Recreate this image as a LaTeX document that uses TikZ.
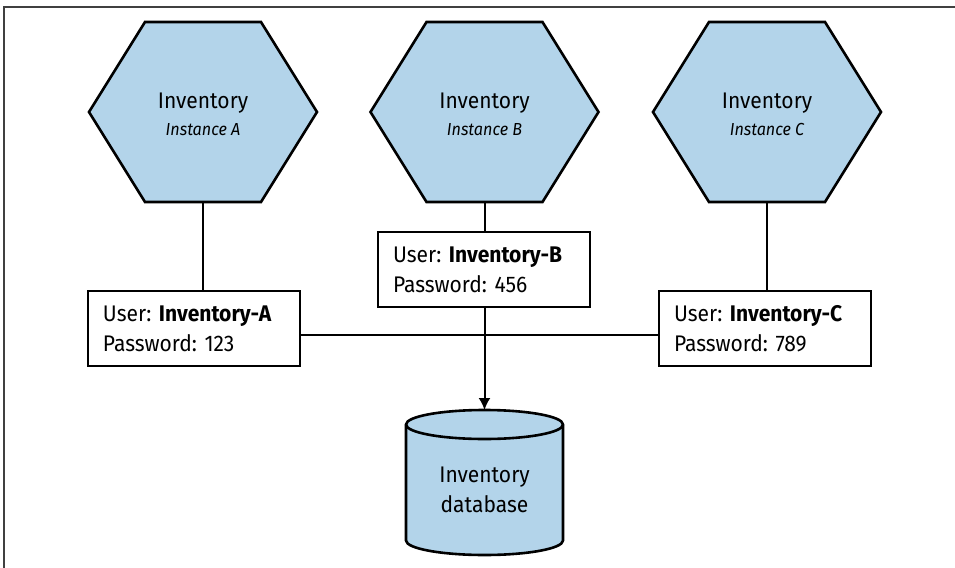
\documentclass[tikz,border=0pt]{standalone}
\usepackage{fontspec}
\setmainfont{Fira Sans}[FakeStretch=0.93]
\frenchspacing
\usetikzlibrary{arrows.meta}
\definecolor{invblue}{RGB}{179,212,234}

\begin{document}
\begin{tikzpicture}[x=0.5pt, y=-0.5pt, >={Latex[length=6pt,width=6pt]},
    hexa/.style={draw=black, fill=invblue, line width=1.3pt, line join=miter},
    svclabel/.style={align=center, font=\fontsize{11.3}{13.5}\selectfont},
    cred/.style={draw=black, fill=white, line width=1.2pt, minimum width=106pt,
        minimum height=37.5pt, text width=91pt, inner xsep=7.5pt, align=left,
        font=\fontsize{11.3}{15}\selectfont},
    link/.style={line width=1pt}]
    \useasboundingbox (0,0) rectangle (955,568);
    % 0. Khung
    \draw[line width=0.8pt, black!75] (955,7) -- (4,7) -- (4,568);

    % 1. Ba dich vu Inventory (luc giac)
    \draw[hexa, shift={(203,112)}] (-114,0) -- (-58,-90) -- (58,-90) -- (114,0) -- (58,90) -- (-58,90) -- cycle;
    \node[svclabel] (invA) at (203,114) {Inventory\\{\fontsize{8.7}{13.5}\selectfont\itshape Instance A}};
    \coordinate (hexA) at (203,202);

    \draw[hexa, shift={(484.5,112)}] (-114,0) -- (-58,-90) -- (58,-90) -- (114,0) -- (58,90) -- (-58,90) -- cycle;
    \node[svclabel] (invB) at (484.5,114) {Inventory\\{\fontsize{8.7}{13.5}\selectfont\itshape Instance B}};
    \coordinate (hexB) at (484.5,202);

    \draw[hexa, shift={(767,112)}] (-114,0) -- (-58,-90) -- (58,-90) -- (114,0) -- (58,90) -- (-58,90) -- cycle;
    \node[svclabel] (invC) at (767,114) {Inventory\\{\fontsize{8.7}{13.5}\selectfont\itshape Instance C}};
    \coordinate (hexC) at (767,202);

    % 2. Tai khoan cua tung instance
    \node[cred] (userA) at (194,328.5) {User: \textbf{Inventory-A}\\Password: 123};
    \node[cred] (userB) at (484,269.5) {User: \textbf{Inventory-B}\\Password: 456};
    \node[cred] (userC) at (765,328.5) {User: \textbf{Inventory-C}\\Password: 789};

    % 3. Co so du lieu (hinh tru)
    \draw[hexa] (406,424.5) -- (406,540.5) arc[start angle=180, end angle=0, x radius=78.5, y radius=14.5]
        -- (563,424.5) arc[start angle=0, end angle=-180, x radius=78.5, y radius=14.5] -- cycle;
    \draw[hexa, fill=none] (406,424.5) arc[start angle=180, end angle=0, x radius=78.5, y radius=14.5];
    \node[svclabel, font=\fontsize{11.3}{15}\selectfont] (db) at (484.5,490) {Inventory\\database};
    \coordinate (dbtop) at (484.5,410);

    % 4. Cac duong noi
    \draw[link] (hexA) -- (hexA |- userA.north);
    \draw[link] (hexB) -- (hexB |- userB.north);
    \draw[link] (hexC) -- (hexC |- userC.north);
    \draw[link] ([yshift=-3.25pt]userA.east) -- ([yshift=-3.25pt]userC.west);
    \draw[link, ->] (userB.south -| dbtop) -- (dbtop);
\end{tikzpicture}
\end{document}
